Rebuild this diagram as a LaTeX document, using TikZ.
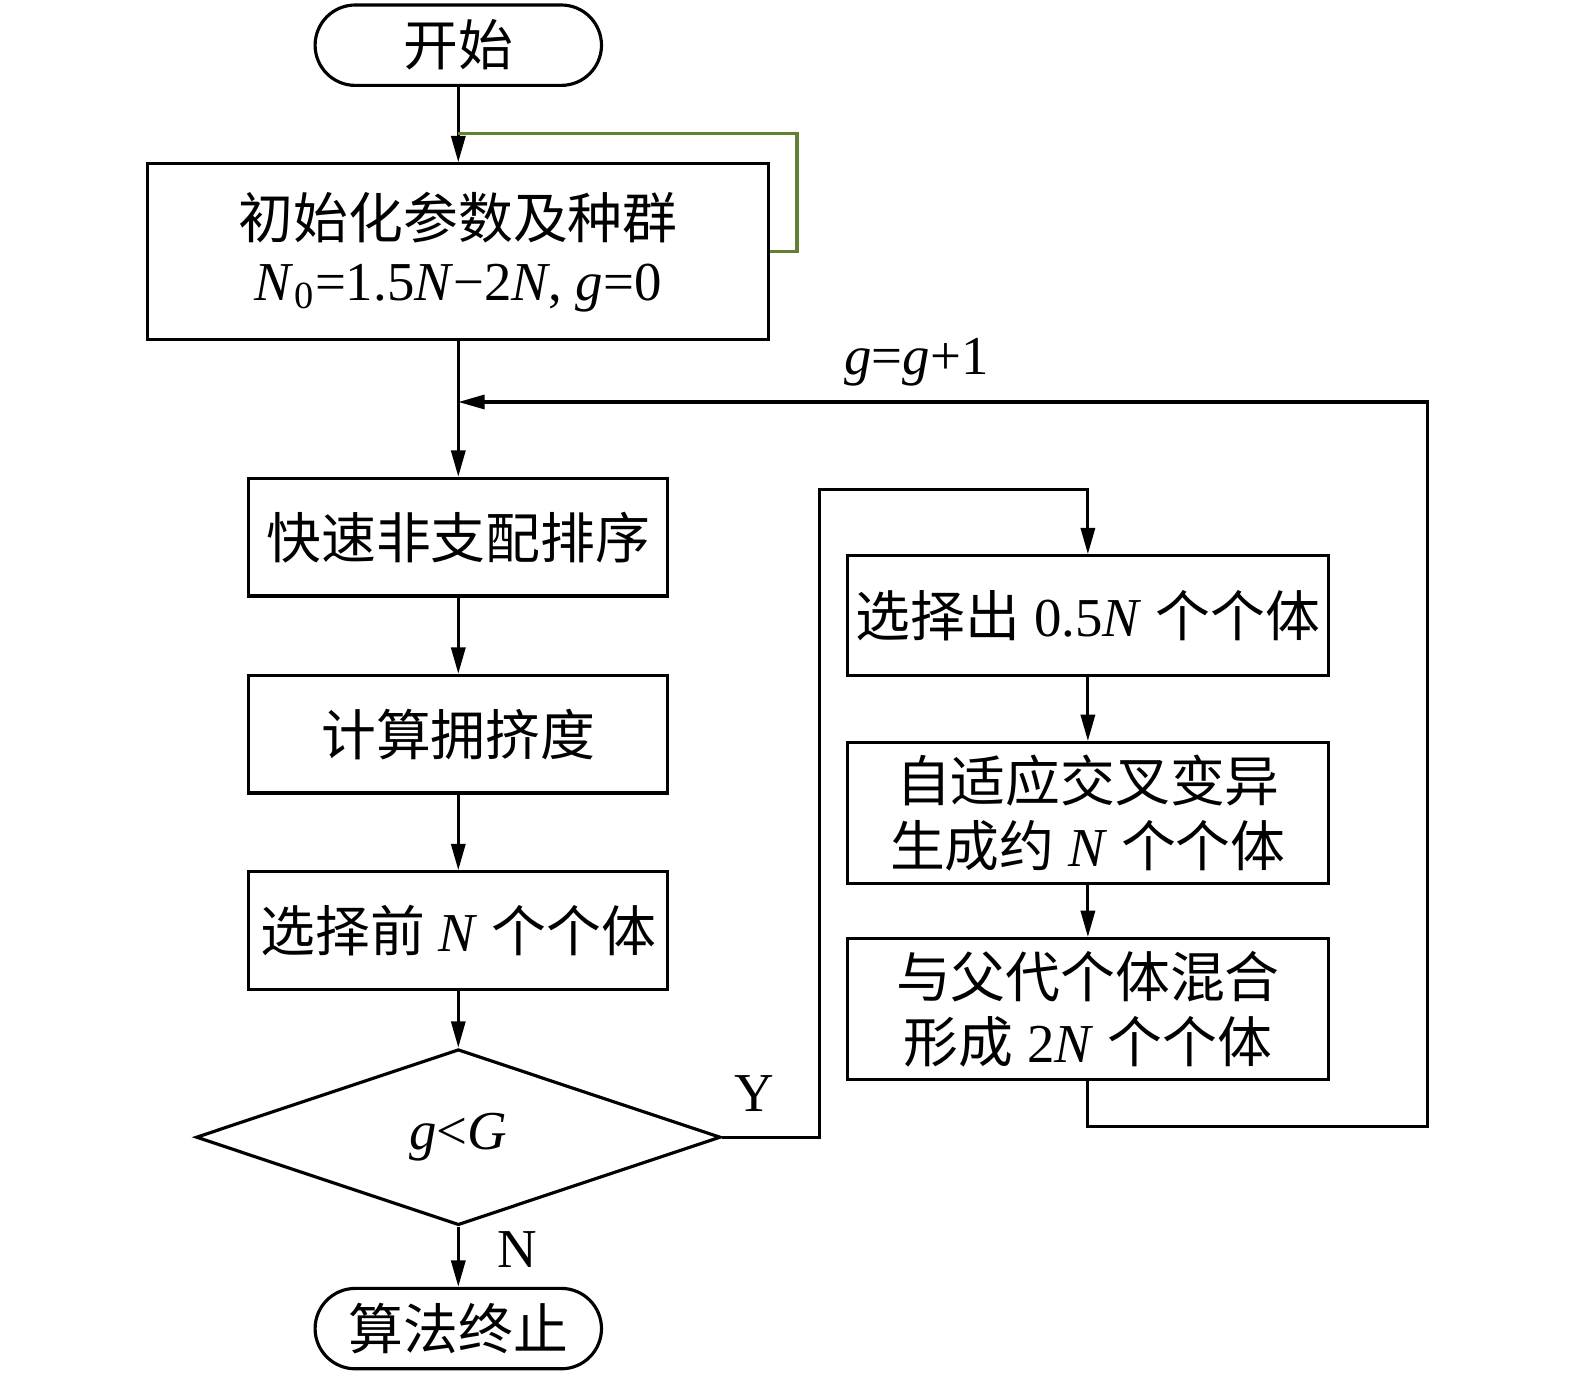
\documentclass[tikz,border=0pt]{standalone}
\usepackage{fontspec}
\setmainfont{Liberation Serif}
\newfontfamily\cjk{Noto Sans CJK SC}
\usetikzlibrary{shapes.geometric,arrows.meta}
\definecolor{loopgreen}{RGB}{98,128,52}

\begin{document}
\begin{tikzpicture}
         [x=1cm,y=-1cm,line width=0.9pt,
          every node/.style={font=\fontsize{15.6}{18.6}\selectfont},
          box/.style={draw,rectangle,inner sep=0pt,align=center},
          term/.style={draw,rectangle,rounded corners=0.402cm,minimum width=2.864cm,minimum height=0.804cm,inner sep=0pt},
          cond/.style={draw,diamond,aspect=3,minimum width=5.246cm,minimum height=1.759cm,inner sep=0pt},
          arr/.style={-{Triangle[length=7.5pt,width=4pt]}}]
         \useasboundingbox (0,0) rectangle (15.75,13.74);
         \node[term] (start) at (4.583,0.452) {\cjk 开始};
         \node[box,minimum width=6.21cm,minimum height=1.759cm] (init) at (4.583,2.518)
            {{\cjk 初始化参数及种群}\\[-1pt]\textit{N}\textsubscript{0}=1.5\textit{N}−2\textit{N}, \textit{g}=0};
         \node[box,minimum width=4.19cm,minimum height=1.176cm] (sort) at (4.583,5.372) {\cjk 快速非支配排序};
         \node[box,minimum width=4.19cm,minimum height=1.176cm] (crowd) at (4.583,7.342) {\cjk 计算拥挤度};
         \node[box,minimum width=4.19cm,minimum height=1.176cm] (pick) at (4.583,9.306)
            {{\cjk 选择前} \textit{N} {\cjk 个个体}};
         \node[cond] (cond) at (4.583,11.372) {\textit{g}<\textit{G}};
         \node[term] (stop) at (4.583,13.286) {\cjk 算法终止};
         \node[box,minimum width=4.814cm,minimum height=1.196cm] (half) at (10.879,6.156)
            {{\cjk 选择出} 0.5\textit{N} {\cjk 个个体}};
         \node[box,minimum width=4.814cm,minimum height=1.407cm] (cross) at (10.879,8.130)
            {{\cjk 自适应交叉变异}\\{\cjk 生成约} \textit{N} {\cjk 个个体}};
         \node[box,minimum width=4.814cm,minimum height=1.407cm] (merge) at (10.879,10.090)
            {{\cjk 与父代个体混合}\\{\cjk 形成} 2\textit{N} {\cjk 个个体}};
         \node (yes) at (7.538,10.934) {Y};
         \node (no) at (5.176,12.492) {N};
         \node (inc) at (9.166,3.618) {\textit{g}=\textit{g}+1};
         \coordinate (g0) at (4.583,1.337);
         \coordinate (g1) at (7.970,1.337);
         \coordinate (join) at (4.583,4.020);
         \coordinate (yturn) at (8.191,4.894);
         \coordinate (back) at (14.271,11.266);
         \foreach \from/\to in {start/init, init/sort, sort/crowd, crowd/pick,
         pick/cond, cond/stop, half/cross, cross/merge}
            \draw[arr] (\from.south) -- (\to.north);
         \draw[arr] (cond.east) -| (yturn) -| (half.north);
         \draw[arr] (merge.south) |- (back) |- (join);
         \draw[loopgreen] (g0) -- (g1) |- (init.east);
       \end{tikzpicture}
\end{document}
